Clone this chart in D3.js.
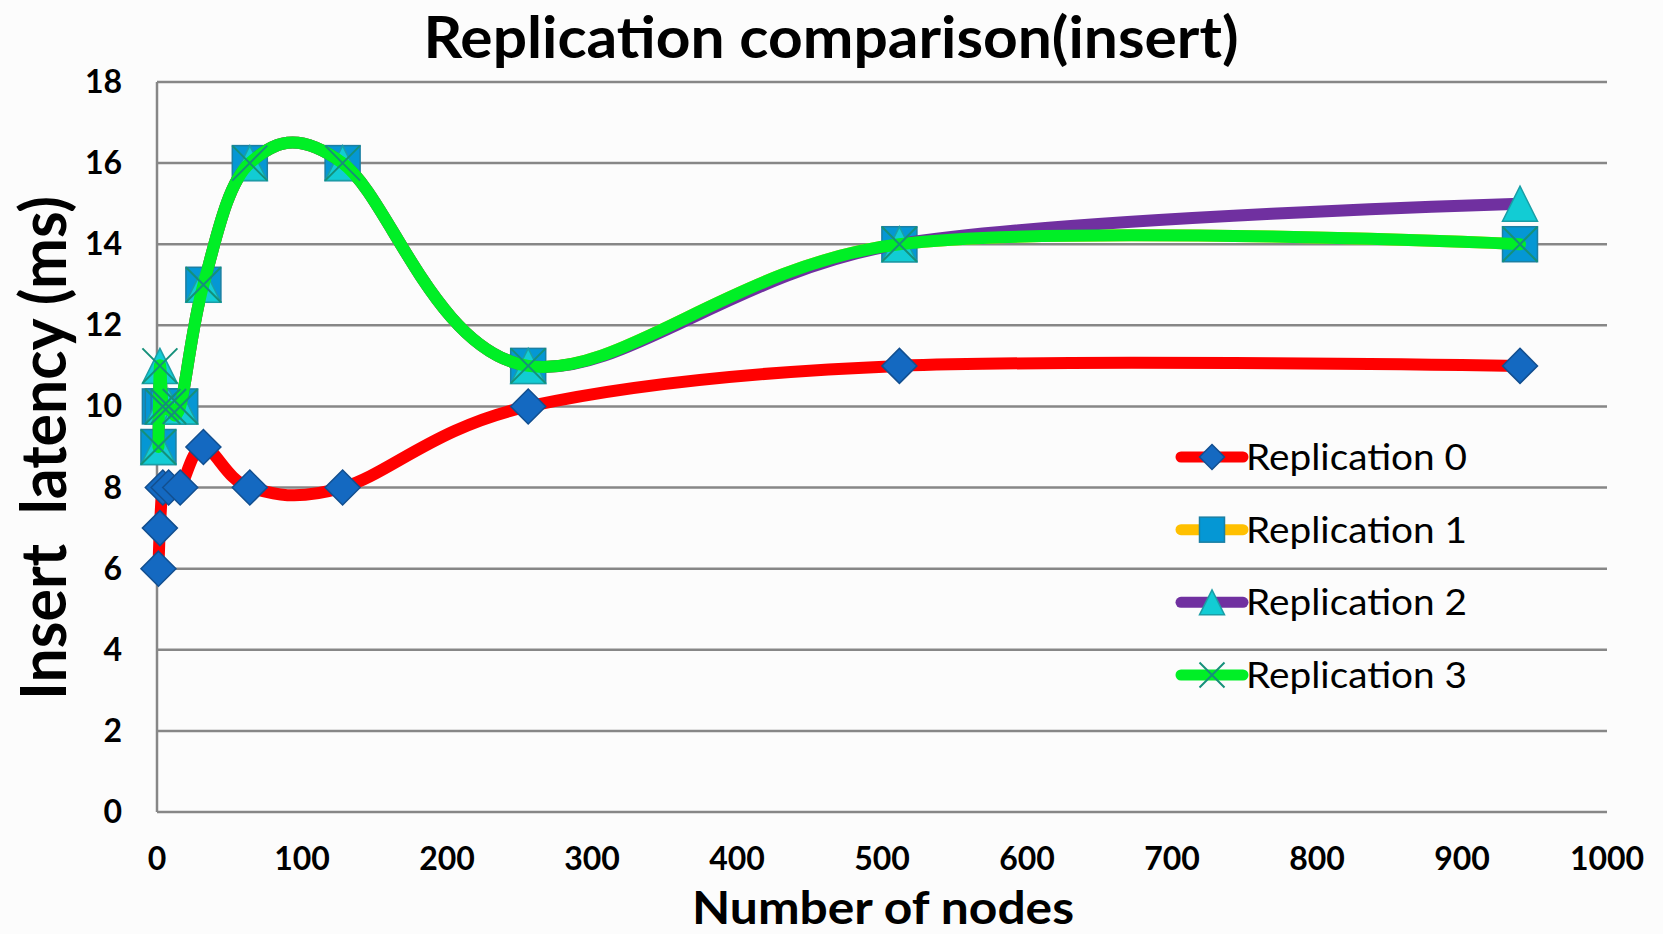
<!DOCTYPE html>
<html>
<head>
<meta charset="utf-8">
<script src="https://cdn.jsdelivr.net/npm/d3@7"></script>
<style>
  html, body { margin: 0; padding: 0; background: #fcfcfc; }
  svg { display: block; }
</style>
</head>
<body>
<div id="chart"></div>
<script>
// values
const nodes = [1, 2, 4, 8, 16, 32, 64, 128, 256, 512, 940];
const rep0 = [6, 7, 8, 8, 8, 9, 8, 8, 10, 11, 11];
const rep1 = [9, 10, 10, 10, 10, 13, 16, 16, 11, 14, 14];
const rep2 = [9, 11, 10, 10, 10, 13, 16, 16, 11, 14, 15];
const rep3 = [9, 11, 10, 10, 10, 13, 16, 16, 11, 14, 14];
const seriesNames = ['Replication 0', 'Replication 1', 'Replication 2', 'Replication 3'];
const xTicks = [0, 100, 200, 300, 400, 500, 600, 700, 800, 900, 1000];
const yTicks = [0, 2, 4, 6, 8, 10, 12, 14, 16, 18];

const W = 1663, H = 934;
const plotL = 157, plotR = 1607, plotT = 82, plotB = 812;
const gridColor = '#878787';
const font = 'Lato, "Open Sans", sans-serif';

const svg = d3.select('#chart').append('svg')
  .attr('width', W)
  .attr('height', H);

svg.append('rect')
  .attr('width', W)
  .attr('height', H)
  .attr('fill', '#fcfcfc');

const x = d3.scaleLinear([0, 1000], [plotL, plotR]);
const y = d3.scaleLinear([0, 18], [plotB, plotT]);

// grid
svg.append('g').selectAll('line')
  .data(yTicks)
  .join('line')
    .attr('x1', plotL)
    .attr('x2', plotR)
    .attr('y1', d => y(d))
    .attr('y2', d => y(d))
    .attr('stroke', gridColor)
    .attr('stroke-width', 2.5);

svg.append('line')
  .attr('x1', plotL).attr('x2', plotL)
  .attr('y1', plotT).attr('y2', plotB)
  .attr('stroke', gridColor)
  .attr('stroke-width', 2.5);

// tick labels
svg.append('g').selectAll('text')
  .data(yTicks)
  .join('text')
    .attr('x', 122)
    .attr('y', d => y(d) + 11)
    .attr('text-anchor', 'end')
    .attr('font-family', font)
    .attr('font-weight', 'bold')
    .attr('font-size', 32)
    .attr('fill', '#000')
    .text(d => d);

svg.append('g').selectAll('text')
  .data(xTicks)
  .join('text')
    .attr('x', d => x(d))
    .attr('y', 870)
    .attr('text-anchor', 'middle')
    .attr('font-family', font)
    .attr('font-weight', 'bold')
    .attr('font-size', 32)
    .attr('fill', '#000')
    .text(d => d);

// titles
svg.append('text')
  .attr('x', 831)
  .attr('y', 58)
  .attr('text-anchor', 'middle')
  .attr('font-family', font)
  .attr('font-weight', 'bold')
  .attr('font-size', 57)
  .attr('textLength', 815)
  .attr('lengthAdjust', 'spacingAndGlyphs')
  .text('Replication comparison(insert)');

svg.append('text')
  .attr('x', 883)
  .attr('y', 924)
  .attr('text-anchor', 'middle')
  .attr('font-family', font)
  .attr('font-weight', 'bold')
  .attr('font-size', 46)
  .attr('textLength', 382)
  .attr('lengthAdjust', 'spacingAndGlyphs')
  .text('Number of nodes');

svg.append('text')
  .attr('transform', 'translate(66,448) rotate(-90)')
  .attr('text-anchor', 'middle')
  .attr('font-family', font)
  .attr('font-weight', 'bold')
  .attr('font-size', 64)
  .attr('textLength', 504)
  .attr('lengthAdjust', 'spacingAndGlyphs')
  .style('white-space', 'pre')
  .text('Insert  latency (ms)');

// markers
const drawMarker = (g, kind, cx, cy, s) => {
  const h = s / 2;
  if (kind === 'diamond') {
    g.append('path')
      .attr('d', `M${cx},${cy - h}L${cx + h},${cy}L${cx},${cy + h}L${cx - h},${cy}Z`)
      .attr('fill', '#1469c1')
      .attr('stroke', '#124f90')
      .attr('stroke-width', 1.5);
  } else if (kind === 'square') {
    g.append('rect')
      .attr('x', cx - h).attr('y', cy - h)
      .attr('width', s).attr('height', s)
      .attr('fill', '#0597d4')
      .attr('stroke', '#1b7fa3')
      .attr('stroke-width', 1.5);
  } else if (kind === 'triangle') {
    g.append('path')
      .attr('d', `M${cx},${cy - h}L${cx + h},${cy + h}L${cx - h},${cy + h}Z`)
      .attr('fill', '#12ccd4')
      .attr('stroke', '#1a9ea6')
      .attr('stroke-width', 1.5);
  } else {
    g.append('path')
      .attr('d', `M${cx - h},${cy - h}L${cx + h},${cy + h}M${cx + h},${cy - h}L${cx - h},${cy + h}`)
      .attr('fill', 'none')
      .attr('stroke', '#15907a')
      .attr('stroke-width', 2);
  }
};

const series = [
  { name: seriesNames[0], values: rep0, color: '#ff0000', marker: 'diamond' },
  { name: seriesNames[1], values: rep1, color: '#ffc000', marker: 'square' },
  { name: seriesNames[2], values: rep2, color: '#7030a0', marker: 'triangle' },
  { name: seriesNames[3], values: rep3, color: '#00ef26', marker: 'x' }
];

const line = d3.line()
  .x(d => x(d[0]))
  .y(d => y(d[1]))
  .curve(d3.curveCardinal.tension(0));

series.forEach(s => {
  const g = svg.append('g');
  const pts = nodes.map((n, i) => [n, s.values[i]]);
  g.append('path')
    .datum(pts)
    .attr('d', line)
    .attr('fill', 'none')
    .attr('stroke', s.color)
    .attr('stroke-width', 12)
    .attr('stroke-linejoin', 'round')
    .attr('stroke-linecap', 'round');
  pts.forEach(p => drawMarker(g, s.marker, x(p[0]), y(p[1]), 35));
});

// legend
const legendY = d3.scalePoint(seriesNames, [457, 675]);
series.forEach(s => {
  const g = svg.append('g');
  const ly = legendY(s.name);
  g.append('line')
    .attr('x1', 1181).attr('x2', 1243)
    .attr('y1', ly).attr('y2', ly)
    .attr('stroke', s.color)
    .attr('stroke-width', 11)
    .attr('stroke-linecap', 'round');
  drawMarker(g, s.marker, 1212, ly, 25);
  g.append('text')
    .attr('x', 1246)
    .attr('y', ly + 13)
    .attr('font-family', font)
    .attr('font-size', 36)
    .attr('textLength', 221)
    .attr('lengthAdjust', 'spacingAndGlyphs')
    .attr('fill', '#000')
    .text(s.name);
});
</script>
</body>
</html>
